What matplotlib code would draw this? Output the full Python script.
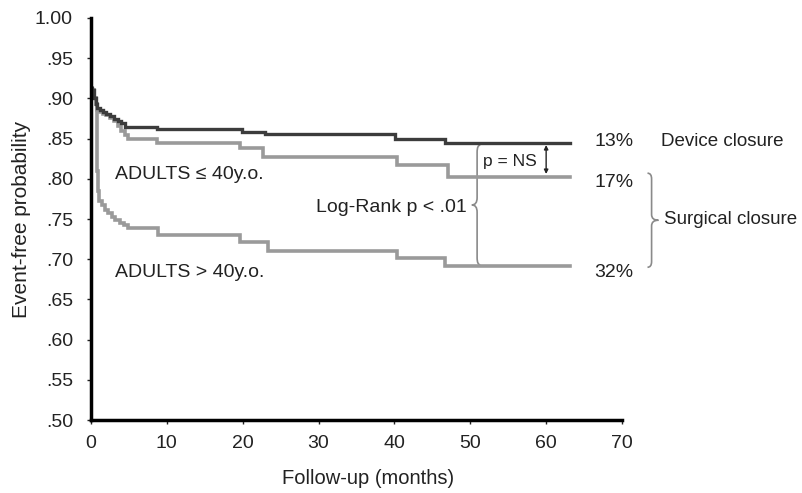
import matplotlib
matplotlib.use('Agg')
import matplotlib.pyplot as plt
from matplotlib.path import Path
from matplotlib.patches import PathPatch

plt.rcParams['font.family'] = ['Liberation Sans', 'DejaVu Sans']

# Kaplan-Meier curves (months, event-free probability)
device_t = [0, 0.2, 0.4, 0.6, 0.8, 1.2, 1.6, 2.0, 2.5, 3.0, 3.5, 4.0, 4.5, 8.7,
            19.9, 23.0, 40.1, 46.7, 63.2]
device_v = [0.913, 0.910, 0.900, 0.893, 0.888, 0.885, 0.883, 0.881, 0.878, 0.875,
            0.872, 0.869, 0.865, 0.862, 0.858, 0.856, 0.850, 0.845, 0.845]

young_t = [0, 0.2, 0.4, 0.6, 0.8, 1.2, 1.6, 2.0, 2.5, 3.0, 3.5, 4.0, 4.5, 4.9,
           8.7, 19.6, 22.7, 40.4, 47.0, 63.2]
young_v = [0.913, 0.910, 0.900, 0.893, 0.886, 0.883, 0.881, 0.879, 0.876, 0.872,
           0.866, 0.859, 0.854, 0.850, 0.845, 0.838, 0.827, 0.817, 0.802, 0.802]

old_t = [0, 0.2, 0.4, 0.6, 0.75, 0.85, 0.95, 1.1, 1.4, 1.8, 2.3, 2.8, 3.2, 3.8,
         4.3, 4.9, 8.8, 19.6, 23.3, 40.3, 46.7, 63.2]
old_v = [0.913, 0.910, 0.900, 0.893, 0.860, 0.810, 0.785, 0.773, 0.767, 0.761,
         0.757, 0.752, 0.749, 0.745, 0.742, 0.739, 0.730, 0.721, 0.710, 0.701,
         0.692, 0.692]

y_ticks = [0.50, 0.55, 0.60, 0.65, 0.70, 0.75, 0.80, 0.85, 0.90, 0.95, 1.00]
y_labels = ['.50', '.55', '.60', '.65', '.70', '.75', '.80', '.85', '.90', '.95', '1.00']
x_ticks = [0, 10, 20, 30, 40, 50, 60, 70]

end_labels = ['13%', '17%', '32%']
end_label_y = [0.846, 0.795, 0.684]

dark = '#3c3c3c'
gray = '#9a9a9a'
brace_col = '#8a8a8a'
txt = '#222222'


def brace(ax, x, y0, y1, w, color, lw=1.2):
    # vertical curly brace; w < 0 points left, w > 0 points right
    ym = (y0 + y1) / 2
    r = (y1 - y0) * 0.06
    h = -w * 0.6
    verts = [(x + h, y1), (x, y1), (x, y1 - r),
             (x, ym + r), (x, ym), (x + w, ym),
             (x, ym), (x, ym - r),
             (x, y0 + r), (x, y0), (x + h, y0)]
    codes = [Path.MOVETO, Path.CURVE3, Path.CURVE3,
             Path.LINETO, Path.CURVE3, Path.CURVE3,
             Path.CURVE3, Path.CURVE3,
             Path.LINETO, Path.CURVE3, Path.CURVE3]
    ax.add_patch(PathPatch(Path(verts, codes), fill=False, edgecolor=color,
                           lw=lw, clip_on=False))


fig = plt.figure(figsize=(8.03, 4.93), dpi=100)
ax = fig.add_axes([0.1133, 0.148, 0.6613, 0.8155])

ax.plot(old_t, old_v, drawstyle='steps-post', color=gray, lw=2.6, solid_joinstyle='miter')
ax.plot(young_t, young_v, drawstyle='steps-post', color=gray, lw=2.6, solid_joinstyle='miter')
ax.plot(device_t, device_v, drawstyle='steps-post', color=dark, lw=2.4, solid_joinstyle='miter')

ax.set_xlim(0, 70)
ax.set_ylim(0.50, 1.00)
ax.set_yticks(y_ticks)
ax.set_yticklabels(y_labels)
ax.set_xticks(x_ticks)
for s in ['top', 'right']:
    ax.spines[s].set_visible(False)
for s in ['left', 'bottom']:
    ax.spines[s].set_linewidth(2.5)
    ax.spines[s].set_color('black')
ax.tick_params(axis='both', length=3, width=1, labelsize=14, colors=txt)
ax.tick_params(axis='y', pad=10)
ax.tick_params(axis='x', pad=8)

ax.set_xlabel('Follow-up (months)', fontsize=14.5, color=txt, labelpad=12)
ax.xaxis.label.set_x(0.521)
ax.set_ylabel('Event-free probability', fontsize=15, color=txt, labelpad=3)

ax.text(3.2, 0.805, 'ADULTS \u2264 40y.o.', fontsize=14, va='center', color=txt)
ax.text(3.2, 0.684, 'ADULTS > 40y.o.', fontsize=14, va='center', color=txt)
ax.text(49.6, 0.764, 'Log-Rank p < .01', fontsize=14, va='center', ha='right', color=txt)
ax.text(51.7, 0.822, 'p = NS', fontsize=12.5, va='center', color=txt)

brace(ax, 50.9, 0.693, 0.842, -0.7, brace_col)
brace(ax, 73.9, 0.690, 0.807, 0.9, brace_col)

ax.annotate('', xy=(60.0, 0.806), xytext=(60.0, 0.842),
            arrowprops=dict(arrowstyle='<|-|>', color=txt, lw=1,
                            mutation_scale=6, shrinkA=0, shrinkB=0))

for lab, yv in zip(end_labels, end_label_y):
    ax.text(66.4, yv, lab, fontsize=14, va='center', color=txt, clip_on=False)
ax.text(75.2, 0.846, 'Device closure', fontsize=13.5, va='center', color=txt)
ax.text(75.6, 0.749, 'Surgical closure', fontsize=13.5, va='center', color=txt)

fig.savefig('out.png', dpi=100)
